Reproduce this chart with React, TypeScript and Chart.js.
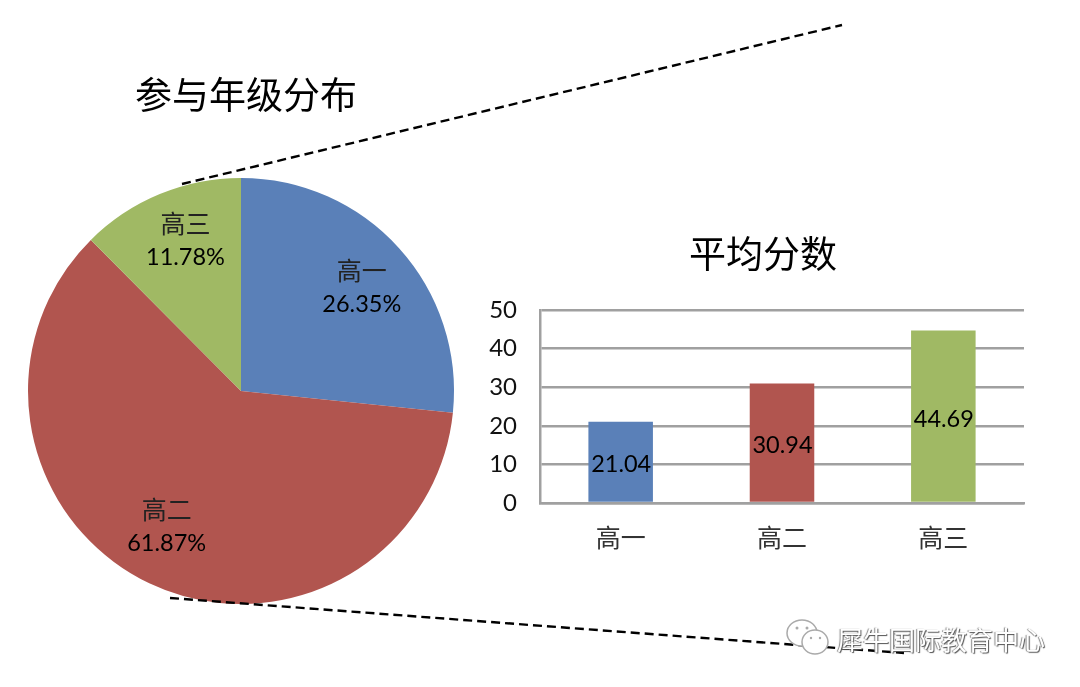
import React, { useEffect, useRef } from "react";
import { Chart, registerables } from "chart.js";

Chart.register(...registerables);

const grades = ["高一", "高二", "高三"];
// Slice sizes measured from the angles drawn in the picture; they differ slightly from the printed percentages.
const sliceValues = [26.62, 60.93, 12.45];
// Percentages as printed on the picture.
const shareLabels = ["26.35%", "61.87%", "11.78%"];
const scoreValues = [21.04, 30.94, 44.69];
const scoreLabels = ["21.04", "30.94", "44.69"];
const colors = ["#5a80b8", "#b1554f", "#a0b964"];
const pieTitle = "参与年级分布";
const barTitle = "平均分数";
const watermark = "犀牛国际教育中心";

const latin = "Lato, 'Noto Sans', sans-serif";
const cjk = "'Noto Sans CJK SC', sans-serif";

const centredTitle = {
  id: "centredTitle",
  afterDraw(chart: any, _args: any, opts: any) {
    const { ctx } = chart;
    ctx.save();
    ctx.textAlign = "center";
    ctx.textBaseline = "middle";
    ctx.fillStyle = "#000";
    ctx.font = `37px ${cjk}`;
    ctx.fillText(opts.text, chart.width / 2, opts.y);
    ctx.restore();
  },
};

const labelNudge = [
  [3, 3],
  [-6, -8],
  [5, -4],
];

const pieLabels = {
  id: "pieLabels",
  afterDatasetsDraw(chart: any) {
    const { ctx } = chart;
    ctx.save();
    ctx.textAlign = "center";
    ctx.textBaseline = "middle";
    chart.getDatasetMeta(0).data.forEach((arc: any, i: number) => {
      const p = arc.getProps(["x", "y", "startAngle", "endAngle", "outerRadius"], true);
      const mid = (p.startAngle + p.endAngle) / 2;
      const r = p.outerRadius * 0.745;
      const x = p.x + Math.cos(mid) * r + labelNudge[i][0];
      const y = p.y + Math.sin(mid) * r + labelNudge[i][1];
      ctx.fillStyle = "#222";
      ctx.font = `25px ${cjk}`;
      ctx.fillText(grades[i], x, y - 17);
      ctx.fillStyle = "#000";
      ctx.font = `23.5px ${latin}`;
      ctx.fillText(shareLabels[i], x, y + 17);
    });
    ctx.restore();
  },
};

const barLabels = {
  id: "barLabels",
  afterDatasetsDraw(chart: any) {
    const { ctx } = chart;
    ctx.save();
    ctx.textAlign = "center";
    ctx.textBaseline = "middle";
    ctx.fillStyle = "#000";
    ctx.font = `23.5px ${latin}`;
    chart.getDatasetMeta(0).data.forEach((bar: any, i: number) => {
      const p = bar.getProps(["x", "y", "base"], true);
      ctx.fillText(scoreLabels[i], p.x + 0.5, (p.y + p.base) / 2 + 3);
    });
    ctx.restore();
  },
};

export default function App() {
  const pieRef = useRef<HTMLCanvasElement>(null);
  const barRef = useRef<HTMLCanvasElement>(null);

  useEffect(() => {
    const pie = new Chart(pieRef.current as HTMLCanvasElement, {
      type: "pie",
      data: {
        labels: grades,
        datasets: [{ data: sliceValues, backgroundColor: colors, borderWidth: 0 }],
      },
      options: {
        responsive: false,
        animation: false,
        layout: { padding: { right: 10, top: 107 } },
        plugins: {
          legend: { display: false },
          tooltip: { enabled: false },
          title: { display: false },
          centredTitle: { text: pieTitle, y: 24 },
        },
      },
      plugins: [pieLabels, centredTitle],
    } as any);

    const bar = new Chart(barRef.current as HTMLCanvasElement, {
      type: "bar",
      data: {
        labels: grades,
        datasets: [{ data: scoreValues, backgroundColor: colors, borderWidth: 0, barPercentage: 0.4, categoryPercentage: 1 }],
      },
      options: {
        responsive: false,
        animation: false,
        layout: { padding: { right: 22, top: 85 } },
        scales: {
          x: {
            grid: { display: false, drawTicks: false },
            border: { color: "#a0a0a0", width: 2.5 },
            ticks: { color: "#333", font: { family: cjk, size: 25 }, padding: 19, maxRotation: 0 },
          },
          y: {
            min: 0,
            max: 50,
            afterFit(scale: any) {
              scale.width = 60;
            },
            grid: { color: "#a0a0a0", lineWidth: 2.5, drawTicks: false },
            border: { color: "#a0a0a0", width: 2.5 },
            ticks: { stepSize: 10, color: "#111", font: { family: latin, size: 24 }, padding: 23 },
          },
        },
        plugins: {
          legend: { display: false },
          tooltip: { enabled: false },
          title: { display: false },
          centredTitle: { text: barTitle, y: 29 },
        },
      },
      plugins: [barLabels, centredTitle],
    } as any);

    return () => {
      pie.destroy();
      bar.destroy();
    };
  }, []);

  return (
    <div style={{ position: "absolute", left: 0, top: 0, width: 1080, height: 687, overflow: "hidden", background: "#fff" }}>
      <canvas ref={pieRef} width={492} height={533} style={{ position: "absolute", left: 0, top: 71 }} />
      <canvas ref={barRef} width={566} height={346} style={{ position: "absolute", left: 480, top: 225 }} />
      <svg width={1080} height={687} style={{ position: "absolute", left: 0, top: 0 }}>
        <line x1={182} y1={184} x2={842} y2={25} stroke="#000" strokeWidth={2.4} strokeDasharray="9 5" />
        <line x1={170} y1={598} x2={904} y2={653} stroke="#000" strokeWidth={2.4} strokeDasharray="9 5" />
        <g fill="#fff" stroke="#aaa" strokeWidth={1.5}>
          <ellipse cx={802} cy={633} rx={15} ry={13} />
          <ellipse cx={815} cy={642} rx={13} ry={12} />
        </g>
        <g fill="#aaa">
          <circle cx={797} cy={628} r={1.5} />
          <circle cx={807} cy={628} r={1.5} />
          <circle cx={811} cy={638} r={1.2} />
          <circle cx={820} cy={638} r={1.2} />
        </g>
      </svg>
      <div
        style={{
          position: "absolute",
          left: 837,
          top: 622,
          fontFamily: cjk,
          fontSize: 26,
          lineHeight: "34px",
          whiteSpace: "nowrap",
          color: "#fff",
          textShadow: "1px 1px 1px #555, -1px 0 1px #888",
        }}
      >
        {watermark}
      </div>
    </div>
  );
}
